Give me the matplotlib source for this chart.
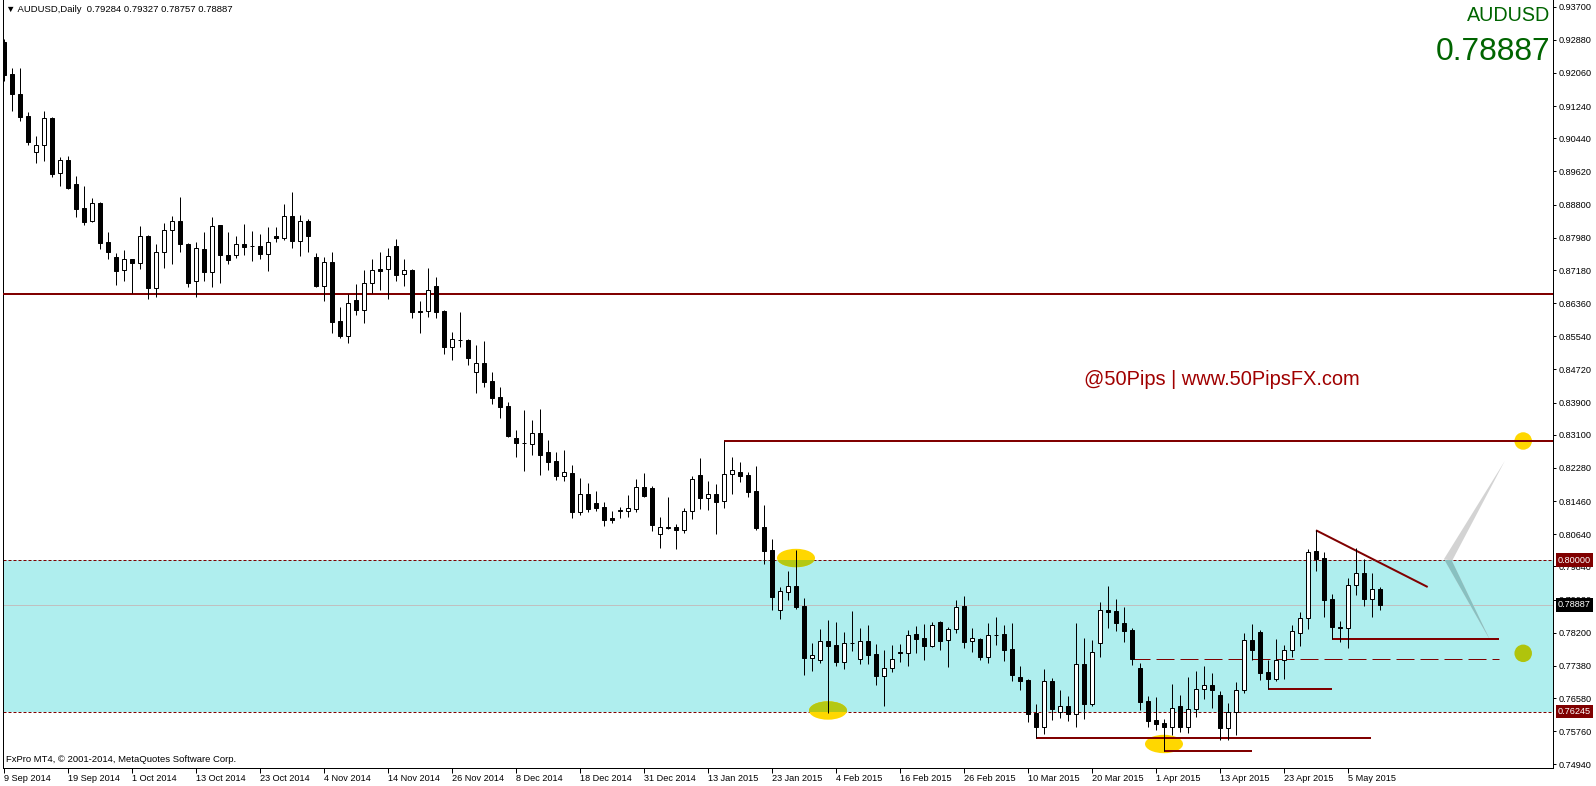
import matplotlib
matplotlib.use("Agg")
import matplotlib.pyplot as plt
from matplotlib.patches import Rectangle, Ellipse, Polygon
import numpy as np

plt.rcParams['font.family'] = ['Liberation Sans', 'DejaVu Sans']
plt.rcParams['lines.scale_dashes'] = False

# ---------------- data (AUDUSD daily, bar index 0 = 9 Sep 2014) ----------------
opens = [0.92834, 0.92034, 0.91531, 0.90994, 0.90095, 0.90268, 0.90944, 0.89575, 0.89897, 0.89303,
         0.88709, 0.88387, 0.88832, 0.87867, 0.87495, 0.87173, 0.87446, 0.87347, 0.88015, 0.86728,
         0.87619, 0.88164, 0.88387, 0.87817, 0.86901, 0.87693, 0.87124, 0.88288, 0.87545, 0.87545,
         0.87817, 0.87770, 0.87768, 0.87584, 0.88015, 0.87980, 0.88510, 0.87906, 0.88387, 0.87495,
         0.86792, 0.87372, 0.85911, 0.85554, 0.86431, 0.86183, 0.86852, 0.87198, 0.87198, 0.87768,
         0.87074, 0.87173, 0.86155, 0.86158, 0.86777, 0.86158, 0.85282, 0.85448, 0.85440, 0.84648,
         0.84878, 0.84432, 0.84036, 0.83813, 0.83021, 0.82890, 0.82880, 0.83138, 0.82667, 0.82452,
         0.82088, 0.82155, 0.81196, 0.81635, 0.81404, 0.81305, 0.81033, 0.81206, 0.81206, 0.81271,
         0.81801, 0.81783, 0.80652, 0.80800, 0.80818, 0.80751, 0.81206, 0.82105, 0.81543, 0.81635,
         0.81454, 0.82122, 0.82172, 0.82098, 0.81709, 0.80818, 0.80248, 0.78770, 0.79216, 0.79357,
         0.78861, 0.77581, 0.77532, 0.77995, 0.77888, 0.77482, 0.77938, 0.77557, 0.77987, 0.77665,
         0.77136, 0.77319, 0.77715, 0.77690, 0.78161, 0.78062, 0.77879, 0.78465, 0.78012, 0.78285,
         0.78854, 0.77987, 0.78037, 0.77606, 0.78136, 0.78161, 0.77789, 0.77104, 0.77029, 0.76212,
         0.75873, 0.76997, 0.76244, 0.76378, 0.76180, 0.77418, 0.76442, 0.77938, 0.78755, 0.78730,
         0.78433, 0.78260, 0.77319, 0.76502, 0.76031, 0.75957, 0.75873, 0.76378, 0.75873, 0.76304,
         0.76799, 0.76898, 0.76650, 0.75848, 0.76230, 0.76774, 0.78012, 0.78210, 0.77220, 0.77061,
         0.77517, 0.77765, 0.78186, 0.78557, 0.80216, 0.80043, 0.79027, 0.78334, 0.78324, 0.79389,
         0.79671, 0.79027, 0.79284]
highs = [0.92893, 0.92182, 0.92182, 0.91093, 0.90499, 0.91118, 0.90962, 0.89979, 0.90003, 0.89508,
         0.89261, 0.88956, 0.88865, 0.88122, 0.87594, 0.87676, 0.87453, 0.88270, 0.88047, 0.87825,
         0.88345, 0.88510, 0.88988, 0.87842, 0.87874, 0.88122, 0.88486, 0.88295, 0.88122, 0.88023,
         0.88320, 0.88146, 0.88072, 0.88245, 0.88245, 0.88815, 0.89112, 0.88535, 0.88436, 0.87594,
         0.87495, 0.87619, 0.86265, 0.86579, 0.86827, 0.87173, 0.87453, 0.87619, 0.87726, 0.87941,
         0.87446, 0.87198, 0.86406, 0.87230, 0.87000, 0.86183, 0.85638, 0.86134, 0.85472, 0.85324,
         0.85423, 0.84655, 0.84276, 0.83905, 0.83219, 0.83714, 0.83467, 0.83739, 0.82972, 0.82667,
         0.82724, 0.82353, 0.82031, 0.81907, 0.81709, 0.81437, 0.81214, 0.81320, 0.81610, 0.82006,
         0.82155, 0.81833, 0.81058, 0.81553, 0.80892, 0.81281, 0.82080, 0.82526, 0.81956, 0.81882,
         0.82947, 0.82551, 0.82427, 0.82179, 0.82328, 0.81362, 0.80520, 0.79332, 0.79728, 0.80248,
         0.79060, 0.77945, 0.78292, 0.78515, 0.78465, 0.78218, 0.78738, 0.78317, 0.78391, 0.77921,
         0.77772, 0.77896, 0.77921, 0.78267, 0.78366, 0.78416, 0.78465, 0.78490, 0.78342, 0.79003,
         0.79102, 0.78309, 0.78069, 0.78433, 0.78582, 0.78384, 0.78433, 0.77368, 0.77054, 0.76435,
         0.77302, 0.77071, 0.76782, 0.76626, 0.78433, 0.78062, 0.78012, 0.78953, 0.79349, 0.79027,
         0.78829, 0.78309, 0.77443, 0.76626, 0.76608, 0.76071, 0.76923, 0.76658, 0.77096, 0.77245,
         0.77368, 0.77195, 0.76749, 0.76452, 0.76972, 0.78186, 0.78408, 0.78268, 0.77532, 0.78037,
         0.77888, 0.78384, 0.78706, 0.80265, 0.80736, 0.80191, 0.79151, 0.78483, 0.79547, 0.80290,
         0.80018, 0.79671, 0.79327]
lows = [0.91868, 0.91125, 0.90878, 0.90276, 0.89823, 0.89887, 0.89491, 0.89268, 0.89194, 0.88501,
        0.88302, 0.88370, 0.87708, 0.87461, 0.86817, 0.86916, 0.86604, 0.87198, 0.86455, 0.86505,
        0.87238, 0.87322, 0.87634, 0.86767, 0.86520, 0.86916, 0.86753, 0.86852, 0.87322, 0.87471,
        0.87552, 0.87411, 0.87461, 0.87164, 0.87874, 0.87931, 0.87733, 0.87535, 0.87634, 0.86767,
        0.86421, 0.85628, 0.85505, 0.85381, 0.86074, 0.85876, 0.86604, 0.86686, 0.86470, 0.86916,
        0.86792, 0.86000, 0.85628, 0.86025, 0.86000, 0.85108, 0.84960, 0.85282, 0.84836, 0.84143,
        0.84291, 0.83870, 0.83524, 0.83058, 0.82558, 0.82212, 0.82608, 0.82112, 0.82229, 0.81989,
        0.81964, 0.81048, 0.81115, 0.81196, 0.81214, 0.80850, 0.80924, 0.81048, 0.81073, 0.81196,
        0.81568, 0.80726, 0.80305, 0.80775, 0.80280, 0.80676, 0.81016, 0.81271, 0.81246, 0.80652,
        0.81295, 0.81642, 0.81939, 0.81568, 0.80743, 0.79909, 0.78762, 0.78547, 0.79010, 0.78795,
        0.77153, 0.77260, 0.77458, 0.76220, 0.77383, 0.77309, 0.77755, 0.77433, 0.77433, 0.76913,
        0.76393, 0.77220, 0.77482, 0.77383, 0.77705, 0.77532, 0.77854, 0.77779, 0.77359, 0.78200,
        0.77829, 0.77730, 0.77532, 0.77458, 0.77903, 0.77507, 0.77012, 0.76789, 0.75989, 0.75601,
        0.75700, 0.76046, 0.76096, 0.76022, 0.75873, 0.76071, 0.76393, 0.77606, 0.78324, 0.78250,
        0.77978, 0.77408, 0.76294, 0.75873, 0.75799, 0.75270, 0.75667, 0.75749, 0.75724, 0.76121,
        0.76566, 0.76343, 0.75544, 0.75544, 0.75675, 0.76700, 0.77532, 0.77037, 0.76806, 0.77012,
        0.77061, 0.77606, 0.77879, 0.78299, 0.79736, 0.78597, 0.78037, 0.77978, 0.77829, 0.79126,
        0.78869, 0.78597, 0.78757]
closes = [0.92009, 0.91531, 0.90977, 0.90358, 0.90268, 0.90937, 0.89565, 0.89897, 0.89219, 0.88699,
          0.88377, 0.88832, 0.87842, 0.87634, 0.87164, 0.87446, 0.87347, 0.88015, 0.86728, 0.87619,
          0.88164, 0.88387, 0.87817, 0.86852, 0.87718, 0.87124, 0.88263, 0.87545, 0.87421, 0.87817,
          0.87758, 0.87765, 0.87584, 0.87867, 0.87980, 0.88510, 0.87906, 0.88387, 0.88030, 0.86785,
          0.87372, 0.85901, 0.85554, 0.86356, 0.86198, 0.86852, 0.87173, 0.87164, 0.87520, 0.87064,
          0.87173, 0.86148, 0.86150, 0.86678, 0.86148, 0.85282, 0.85465, 0.85436, 0.85009, 0.84878,
          0.84415, 0.84019, 0.83796, 0.83078, 0.82905, 0.82897, 0.83138, 0.82608, 0.82434, 0.82088,
          0.82172, 0.81196, 0.81635, 0.81263, 0.81295, 0.80998, 0.80998, 0.81238, 0.81281, 0.81801,
          0.81593, 0.80874, 0.80810, 0.80810, 0.80751, 0.81214, 0.82006, 0.81543, 0.81627, 0.81444,
          0.82130, 0.82221, 0.82088, 0.81692, 0.80793, 0.80231, 0.79092, 0.79225, 0.79357, 0.78837,
          0.77581, 0.77641, 0.77995, 0.77879, 0.77482, 0.77938, 0.77945, 0.77987, 0.77656, 0.77136,
          0.77319, 0.77542, 0.77690, 0.78136, 0.78052, 0.77879, 0.78384, 0.78002, 0.78285, 0.78829,
          0.77978, 0.78062, 0.77606, 0.78136, 0.78143, 0.77779, 0.77160, 0.77012, 0.76195, 0.75873,
          0.76997, 0.76319, 0.76378, 0.76180, 0.77418, 0.76442, 0.77715, 0.78755, 0.78720, 0.78433,
          0.78250, 0.77542, 0.76492, 0.76022, 0.75947, 0.75873, 0.76329, 0.75873, 0.76304, 0.76799,
          0.76898, 0.76789, 0.75848, 0.76230, 0.76774, 0.78012, 0.77779, 0.77210, 0.77061, 0.77517,
          0.77765, 0.78235, 0.78557, 0.80191, 0.80033, 0.79017, 0.78349, 0.78309, 0.79374, 0.79671,
          0.79042, 0.79275, 0.78887]

date_labels = ["9 Sep 2014", "19 Sep 2014", "1 Oct 2014", "13 Oct 2014", "23 Oct 2014",
               "4 Nov 2014", "14 Nov 2014", "26 Nov 2014", "8 Dec 2014", "18 Dec 2014",
               "31 Dec 2014", "13 Jan 2015", "23 Jan 2015", "4 Feb 2015", "16 Feb 2015",
               "26 Feb 2015", "10 Mar 2015", "20 Mar 2015", "1 Apr 2015", "13 Apr 2015",
               "23 Apr 2015", "5 May 2015"]
date_label_step = 8   # bars between date labels

price_labels = ["0.93700", "0.92880", "0.92060", "0.91240", "0.90440", "0.89620", "0.88800",
                "0.87980", "0.87180", "0.86360", "0.85540", "0.84720", "0.83900", "0.83100",
                "0.82280", "0.81460", "0.80640", "0.79840", "0.79020", "0.78200", "0.77380",
                "0.76580", "0.75760", "0.74940"]

symbol = "AUDUSD"
timeframe = "Daily"
zone_top = 0.80000
zone_bottom = 0.76245
resistance_level = 0.86587

# ---------------- figure ----------------
W, H = 1596, 786
fig = plt.figure(figsize=(W / 100, H / 100), dpi=100)
ax_left_px, ax_right_px, ax_bottom_px = 2.5, 1553.0, 767.7
ax = fig.add_axes([ax_left_px / W, 1 - ax_bottom_px / H,
                   (ax_right_px - ax_left_px) / W, ax_bottom_px / H])
XMIN, XMAX = -0.1875, 193.625
ax.set_xlim(XMIN, XMAX)
ax.set_ylim(0.74858, 0.93866)
ax.set_facecolor('white')

PX = 0.72  # one pixel in points
red = '#800000'

# support/resistance zone
ax.axhspan(zone_bottom, zone_top, color='#AFEEEE', lw=0, zorder=0)
for lvl in (zone_top, zone_bottom):
    ax.axhline(lvl, color=red, lw=PX, linestyle=(0, (3 * PX, 2 * PX)), zorder=1)
# bid line
ax.axhline(closes[-1], color='#C0C0C0', lw=PX, zorder=1)

zone_clip = Rectangle((XMIN, zone_bottom), XMAX - XMIN, zone_top - zone_bottom,
                      transform=ax.transData, visible=False)
ax.add_patch(zone_clip)

def two_tone(patch_factory, c_out, c_in, z=2):
    p1 = patch_factory(c_out)
    p1.set_zorder(z)
    ax.add_patch(p1)
    p2 = patch_factory(c_in)
    p2.set_zorder(z + 0.1)
    ax.add_patch(p2)
    p2.set_clip_path(zone_clip)

gold = '#FFD700'
olive = '#B4C814'
# ellipses marking extremes
ell_w, ell_h = 4.75, 0.00455
for (bx, by) in [(99, 0.80050), (103, 0.76274), (145, 0.75445)]:
    two_tone(lambda c, bx=bx, by=by: Ellipse((bx, by), ell_w, ell_h, facecolor=c, edgecolor='none'),
             gold, olive)

# right-side target circles
circ_w, circ_h = 2.19, 0.00433
ax.add_patch(Ellipse((189.9, highs[90]), circ_w, circ_h, facecolor=gold, edgecolor='none', zorder=2))
ax.add_patch(Ellipse((189.9, 0.77690), circ_w, circ_h, facecolor='#B0C40C', edgecolor='none', zorder=2))

# zig-zag projection wedges
base = [(180.0, 0.80025), (181.0, 0.79976)]
for apex in [(187.6, 0.82452), (185.75, 0.78020)]:
    two_tone(lambda c, apex=apex: Polygon(base + [apex], closed=True, facecolor=c, edgecolor='none'),
             '#D3D3D3', '#88C0C0')

# horizontal / trend lines
lw2 = 2 * PX
ax.axhline(resistance_level, color=red, lw=lw2, zorder=3)
ax.hlines(highs[90], 90, XMAX, color=red, lw=lw2, zorder=3)
ax.plot([164, 177.96], [highs[164], 0.79332], color=red, lw=lw2, zorder=3,
        solid_capstyle='butt')
ax.hlines(lows[166], 166, 186.9, color=red, lw=lw2, zorder=3)
ax.hlines(closes[141], 141, 186.9, color=red, lw=PX, zorder=3,
          linestyle=(0, (18 * PX, 6 * PX)))
ax.hlines(lows[158], 158, 166, color=red, lw=lw2, zorder=3)
ax.hlines(lows[129], 129, 170.9, color=red, lw=lw2, zorder=3)
ax.hlines(lows[145], 145, 156, color=red, lw=lw2, zorder=3)

# candles
n = len(opens)
xs = np.arange(n)
ax.vlines(xs, lows, highs, colors='black', lw=PX, zorder=4)
for i in range(n):
    o, c = opens[i], closes[i]
    fc = 'white' if c > o else 'black'
    ax.add_patch(Rectangle((i - 0.25, min(o, c)), 0.5, abs(c - o), facecolor=fc,
                           edgecolor='black', lw=PX, zorder=5))

# texts
ax.text(152.2, 0.84482, "@50Pips | www.50PipsFX.com", color='#A00000', fontsize=14.4,
        ha='center', va='center', zorder=6)
ax.text(0.998, 1 - 15.5 / ax_bottom_px, symbol, transform=ax.transAxes, color='#006400',
        fontsize=14.2, ha='right', va='center', zorder=6)
ax.text(0.998, 1 - 51.5 / ax_bottom_px, f"{closes[-1]:.5f}", transform=ax.transAxes,
        color='#006400', fontsize=22.9, ha='right', va='center', zorder=6)
ax.text(0.0022, 1 - 10 / ax_bottom_px,
        f"\u25BC {symbol},{timeframe}  {opens[-1]:.5f} {highs[-1]:.5f} {lows[-1]:.5f} {closes[-1]:.5f}",
        transform=ax.transAxes, fontsize=6.8, ha='left', va='center', zorder=6)
ax.text(0.0022, 1 - 759 / ax_bottom_px, "FxPro MT4, \u00A9 2001-2014, MetaQuotes Software Corp.",
        transform=ax.transAxes, fontsize=6.8, ha='left', va='center', zorder=6)

# axes styling
for s in ['left', 'bottom', 'right']:
    ax.spines[s].set_linewidth(PX)
    ax.spines[s].set_color('black')
ax.spines['top'].set_visible(False)

ax.yaxis.tick_right()
ax.set_yticks([float(p) for p in price_labels])
ax.set_yticklabels(price_labels)
ax.tick_params(axis='y', direction='out', length=2.4, width=PX, pad=2, labelsize=6.6,
               left=False, labelleft=False, right=True, labelright=True)

xt = list(range(0, len(date_labels) * date_label_step, date_label_step))
ax.set_xticks(xt)
ax.set_xticklabels(date_labels, ha='left')
ax.tick_params(axis='x', direction='out', length=3.6, width=PX, pad=1.0, labelsize=6.6)

# price boxes on axis
ytr = ax.get_yaxis_transform()
for val, bg in [(zone_top, red), (closes[-1], 'black'), (zone_bottom, red)]:
    ax.text(1.0 + 5 / (ax_right_px - ax_left_px), val, f"{val:.5f}", transform=ytr,
            ha='left', va='center', color='white', fontsize=6.6, zorder=10, clip_on=False,
            bbox=dict(boxstyle='square,pad=0.25', fc=bg, ec='none'))

fig.savefig("out.png", dpi=100)
